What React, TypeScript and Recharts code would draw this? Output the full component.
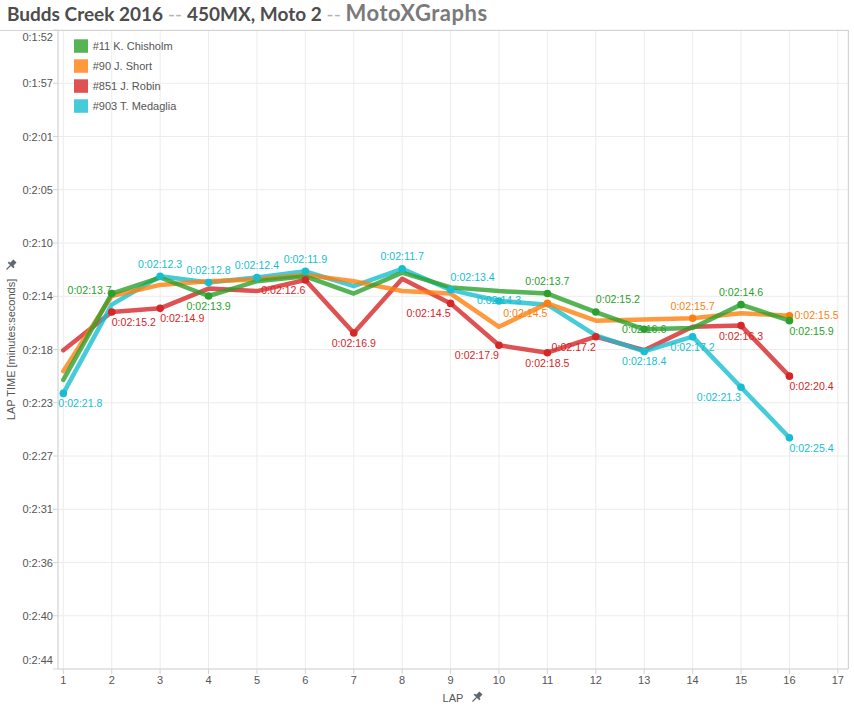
import React from 'react'
import { LineChart, Line, XAxis, YAxis, CartesianGrid } from 'recharts'

// lap times in seconds
const laps = [1, 2, 3, 4, 5, 6, 7, 8, 9, 10, 11, 12, 13, 14, 15, 16]
const chisholm = [140.7, 133.7, 132.4, 133.9, 132.7, 132.3, 133.7, 132.0, 133.2, 133.5, 133.7, 135.2, 136.6, 136.5, 134.6, 135.9]
const short = [140.0, 133.9, 133.0, 132.7, 132.55, 132.2, 132.7, 133.5, 133.7, 136.4, 134.5, 135.9, 135.8, 135.7, 135.3, 135.5]
const robin = [138.3, 135.2, 134.9, 133.3, 133.5, 132.6, 136.9, 132.5, 134.5, 137.9, 138.5, 137.2, 138.3, 136.4, 136.3, 140.4]
const medaglia = [141.8, 134.6, 132.3, 132.8, 132.4, 131.9, 133.1, 131.7, 133.4, 134.3, 134.6, 137.1, 138.4, 137.2, 141.3, 145.4]

const xTicks = [1, 2, 3, 4, 5, 6, 7, 8, 9, 10, 11, 12, 13, 14, 15, 16, 17]
const yTicks = [112.32, 116.64, 120.96, 125.28, 129.6, 133.92, 138.24, 142.56, 146.88, 151.2, 155.52, 159.84, 164.16]
const yTickLabels = ['0:1:52', '0:1:57', '0:2:01', '0:2:05', '0:2:10', '0:2:14', '0:2:18', '0:2:23', '0:2:27', '0:2:31', '0:2:36', '0:2:40', '0:2:44']

const riders = [
  { key: 'robin', name: '#851 J. Robin', color: '#d62728', soft: '#de5253' },
  { key: 'medaglia', name: '#903 T. Medaglia', color: '#17becf', soft: '#45cbd9' },
  { key: 'short', name: '#90 J. Short', color: '#ff7f0e', soft: '#ff993e' },
  { key: 'chisholm', name: '#11 K. Chisholm', color: '#2ca02c', soft: '#56b356' },
]
const legendOrder = ['chisholm', 'short', 'robin', 'medaglia']

// label placement: [textAnchor, dx, dy]
const P: Record<string, [string, number, number]> = {
  above: ['middle', 0, -12.5],
  below: ['middle', 0, 10],
  belowRight: ['start', 0, 10],
  belowRightIn: ['start', -5, 10],
  belowLeft: ['end', 0, 10],
  aboveRight: ['start', 0, -13],
  center: ['middle', 0, -0.5],
  right: ['start', 5, -1],
  left: ['end', 0, -4],
}

const labelAt: Record<string, Record<number, string>> = {
  chisholm: { 2: 'left', 4: 'below', 11: 'above', 12: 'aboveRight', 13: 'center', 15: 'above', 16: 'belowRight' },
  short: { 11: 'belowLeft', 14: 'above', 16: 'right' },
  robin: { 2: 'belowRight', 3: 'belowRight', 6: 'belowLeft', 7: 'below', 9: 'belowLeft', 10: 'belowLeft', 11: 'below', 12: 'belowLeft', 15: 'below', 16: 'belowRight' },
  medaglia: { 1: 'belowRightIn', 3: 'above', 4: 'above', 5: 'above', 6: 'above', 8: 'above', 9: 'aboveRight', 10: 'center', 13: 'below', 14: 'below', 15: 'belowLeft', 16: 'belowRight' },
}

const rows = laps.map((lap, i) => ({
  lap,
  chisholm: chisholm[i],
  short: short[i],
  robin: robin[i],
  medaglia: medaglia[i],
}))

const FONT = '"Liberation Sans", Arial, sans-serif'
const AXIS = '#d4d4d4'
const TEXT = '#555555'

function fmtTime(v: number): string {
  const m = Math.floor(v / 60)
  const s = (v - m * 60).toFixed(1).padStart(4, '0')
  return `0:0${m}:${s}`
}

function YTick(props: any) {
  const { x, y, payload } = props
  const i = yTicks.findIndex((t) => Math.abs(t - payload.value) < 1e-6)
  const shift = i === 0 ? 6.7 : i === yTicks.length - 1 ? -9 : 0
  return (
    <text x={x} y={y + shift} textAnchor="end" dominantBaseline="central" fontSize={11} fontFamily={FONT} fill={TEXT}>
      {yTickLabels[i]}
    </text>
  )
}

function Pin({ x, y }: { x: number; y: number }) {
  return (
    <g transform={`translate(${x},${y}) rotate(45)`} fill="#5f6670">
      <rect x={-2.2} y={-7} width={4.4} height={5} />
      <rect x={-4} y={-2.5} width={8} height={1.8} />
      <rect x={-0.6} y={-1} width={1.2} height={6} />
    </g>
  )
}

function makeDot(key: string, color: string) {
  return (props: any) => {
    const { cx, cy, index } = props
    const lap = laps[index]
    if (!labelAt[key][lap]) return <g key={`d-${key}-${index}`} />
    return <circle key={`d-${key}-${index}`} cx={cx} cy={cy} r={3.8} fill={color} />
  }
}

function makeLabel(key: string, color: string) {
  return (props: any) => {
    const { cx, cy, index, value } = props
    const lap = laps[index]
    const place = labelAt[key][lap]
    if (!place) return <g key={`l-${key}-${index}`} />
    const [anchor, dx, dy] = P[place]
    const v = Array.isArray(value) ? value[1] : value
    return (
      <text
        key={`l-${key}-${index}`}
        x={cx + dx}
        y={cy + dy}
        textAnchor={anchor as any}
        dominantBaseline="central"
        fontSize={10.6}
        fontFamily={FONT}
        fill={color}
      >
        {fmtTime(v)}
      </text>
    )
  }
}

export default function App() {
  return (
    <div style={{ position: 'absolute', left: 0, top: 0, width: 854, height: 709, background: '#fff', overflow: 'hidden' }}>
      <LineChart width={854} height={709} data={rows} margin={{ top: 30, right: 6, bottom: 10, left: 0 }}>
        <CartesianGrid stroke="#ececec" />
        <XAxis
          dataKey="lap"
          type="number"
          domain={[0.89, 17.21]}
          ticks={xTicks}
          interval={0}
          height={30}
          tickSize={5}
          tickMargin={2}
          tick={{ fontSize: 11, fontFamily: FONT, fill: TEXT }}
          axisLine={{ stroke: AXIS }}
          tickLine={{ stroke: AXIS }}
        />
        <YAxis
          type="number"
          domain={[112.32, 164.16]}
          reversed
          ticks={yTicks}
          interval={0}
          width={58}
          tickSize={5}
          tickMargin={0}
          tick={<YTick />}
          axisLine={{ stroke: AXIS }}
          tickLine={{ stroke: AXIS }}
        />
        {riders.map((r) => (
          <Line
            key={r.key}
            dataKey={r.key}
            type="linear"
            stroke={r.color}
            strokeOpacity={0.8}
            strokeWidth={4.5}
            strokeLinejoin="round"
            strokeLinecap="round"
            dot={makeDot(r.key, r.color)}
            activeDot={false}
            isAnimationActive={false}
          />
        ))}
        {riders.map((r) => (
          <Line
            key={`lab-${r.key}`}
            dataKey={r.key}
            type="linear"
            stroke="none"
            dot={makeLabel(r.key, r.color)}
            activeDot={false}
            legendType="none"
            isAnimationActive={false}
          />
        ))}
      </LineChart>

      <div style={{ position: 'absolute', left: 0, top: 30, width: 848, height: 1, background: AXIS }} />
      <div style={{ position: 'absolute', left: 848, top: 30, width: 1, height: 639, background: AXIS }} />

      <svg width={854} height={709} style={{ position: 'absolute', left: 0, top: 0, pointerEvents: 'none' }}>
        <text x={7} y={21} fontFamily="Lato, sans-serif" fontWeight={700} fontSize={19}>
          <tspan fill="#4d4d4d">Budds Creek 2016</tspan>
          <tspan fill="#b3b3b3" fontWeight={400}> -- </tspan>
          <tspan fill="#4d4d4d">450MX, Moto 2</tspan>
          <tspan fill="#b3b3b3" fontWeight={400}> -- </tspan>
          <tspan fill="#7a7a7a" fontSize={22} letterSpacing={0.5}>MotoXGraphs</tspan>
        </text>

        {legendOrder.map((k, i) => {
          const r = riders.find((d) => d.key === k)!
          return (
            <g key={k}>
              <rect x={74} y={39.3 + i * 20} width={14} height={13.5} fill={r.soft} />
              <text x={92.7} y={46 + i * 20} dominantBaseline="central" fontSize={11} fontFamily={FONT} fill={TEXT}>
                {r.name}
              </text>
            </g>
          )
        })}

        <text
          transform="translate(11,349.5) rotate(-90)"
          textAnchor="middle"
          dominantBaseline="central"
          fontSize={11}
          fontFamily={FONT}
          fill={TEXT}
        >
          LAP TIME [minutes:seconds]
        </text>
        <Pin x={10} y={266} />

        <text x={453} y={698} textAnchor="middle" dominantBaseline="central" fontSize={11} fontFamily={FONT} fill={TEXT}>
          LAP
        </text>
        <Pin x={476} y={698} />
      </svg>
    </div>
  )
}
